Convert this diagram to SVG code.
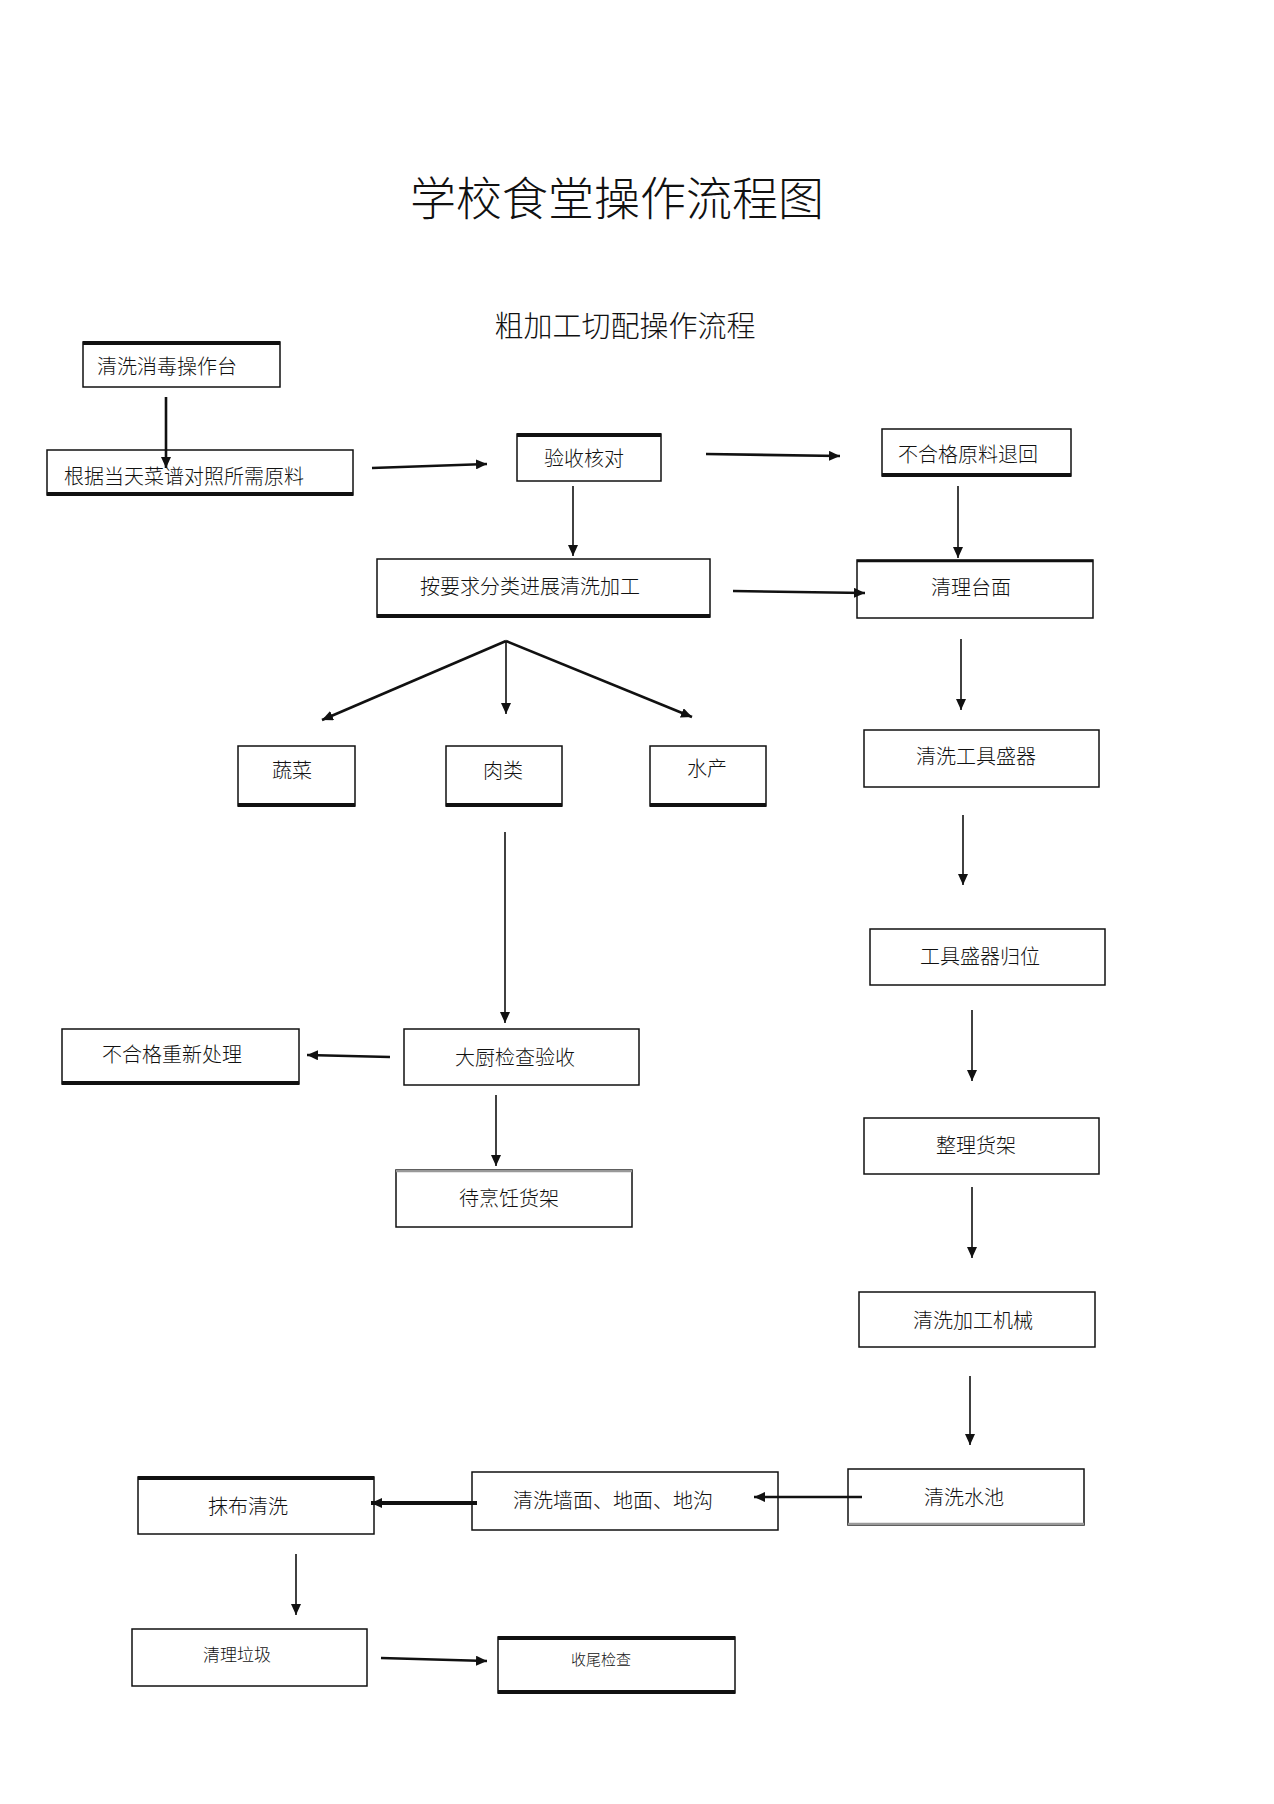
<svg xmlns="http://www.w3.org/2000/svg" width="1274" height="1804" viewBox="0 0 1274 1804">
<style>
text{font-family:"Noto Sans CJK SC","Noto Sans",sans-serif;fill:#111;text-anchor:middle;dominant-baseline:central;font-weight:300}
.t{font-size:20px}
.b{fill:#fff;stroke:#111;stroke-width:1.5}
.k{stroke:#111;stroke-width:4}
.g{stroke:#999;stroke-width:2.5}
.c{stroke:#111;fill:none;stroke-width:1.6}
.w{stroke-width:2.6}
</style>
<defs>
<marker id="a" markerUnits="userSpaceOnUse" markerWidth="12" markerHeight="10" refX="11" refY="5" orient="auto">
<path d="M0,0 L11,5 L0,10 Z" fill="#111"/>
</marker>
</defs>
<rect width="1274" height="1804" fill="#fff"/>
<text x="617" y="195" style="font-size:46px">学校食堂操作流程图</text>
<text x="625" y="324" style="font-size:29px">粗加工切配操作流程</text>

<g id="n1"><rect class="b" x="83" y="342" width="197" height="45"/><line class="k" x1="83" y1="343" x2="280" y2="343"/><text class="t" x="167" y="365">清洗消毒操作台</text></g>
<g id="n2"><rect class="b" x="47" y="450" width="306" height="45"/><line class="k" x1="47" y1="494" x2="353" y2="494"/><text class="t" x="184" y="475">根据当天菜谱对照所需原料</text></g>
<g id="n3"><rect class="b" x="517" y="434" width="144" height="47"/><line class="k" x1="517" y1="435" x2="661" y2="435"/><text class="t" x="584" y="457">验收核对</text></g>
<g id="n4"><rect class="b" x="882" y="429" width="189" height="47"/><line class="k" x1="882" y1="475" x2="1071" y2="475"/><text class="t" x="968" y="453">不合格原料退回</text></g>
<g id="n5"><rect class="b" x="377" y="559" width="333" height="58"/><line class="k" x1="377" y1="616" x2="710" y2="616"/><text class="t" x="530" y="585">按要求分类进展清洗加工</text></g>
<g id="n6"><rect class="b" x="857" y="560" width="236" height="58"/><line class="k" x1="857" y1="561" x2="1093" y2="561" style="stroke-width:2.5"/><text class="t" x="971" y="586">清理台面</text></g>
<g id="n7"><rect class="b" x="238" y="746" width="117" height="60"/><line class="k" x1="238" y1="805" x2="355" y2="805"/><text class="t" x="292" y="769">蔬菜</text></g>
<g id="n8"><rect class="b" x="446" y="746" width="116" height="60"/><line class="k" x1="446" y1="805" x2="562" y2="805"/><text class="t" x="503" y="769">肉类</text></g>
<g id="n9"><rect class="b" x="650" y="746" width="116" height="60"/><line class="k" x1="650" y1="805" x2="766" y2="805"/><text class="t" x="707" y="767">水产</text></g>
<g id="n10"><rect class="b" x="864" y="730" width="235" height="57"/><text class="t" x="976" y="755">清洗工具盛器</text></g>
<g id="n11"><rect class="b" x="870" y="929" width="235" height="56"/><text class="t" x="980" y="955">工具盛器归位</text></g>
<g id="n12"><rect class="b" x="404" y="1029" width="235" height="56"/><text class="t" x="515" y="1056">大厨检查验收</text></g>
<g id="n13"><rect class="b" x="62" y="1029" width="237" height="55"/><line class="k" x1="62" y1="1083" x2="299" y2="1083"/><text class="t" x="172" y="1053">不合格重新处理</text></g>
<g id="n14"><rect class="b" x="396" y="1170" width="236" height="57"/><line class="g" x1="396" y1="1171" x2="632" y2="1171"/><text class="t" x="509" y="1197">待烹饪货架</text></g>
<g id="n15"><rect class="b" x="864" y="1118" width="235" height="56"/><text class="t" x="976" y="1144">整理货架</text></g>
<g id="n16"><rect class="b" x="859" y="1292" width="236" height="55"/><text class="t" x="973" y="1319">清洗加工机械</text></g>
<g id="n17"><rect class="b" x="848" y="1469" width="236" height="56"/><line class="g" x1="848" y1="1524" x2="1084" y2="1524"/><text class="t" x="964" y="1496">清洗水池</text></g>
<g id="n18"><rect class="b" x="472" y="1472" width="306" height="58"/><text class="t" x="613" y="1499">清洗墙面、地面、地沟</text></g>
<g id="n19"><rect class="b" x="138" y="1477" width="236" height="57"/><line class="k" x1="138" y1="1478" x2="374" y2="1478"/><text class="t" x="248" y="1505">抹布清洗</text></g>
<g id="n20"><rect class="b" x="132" y="1629" width="235" height="57"/><text x="237" y="1653" style="font-size:17px">清理垃圾</text></g>
<g id="n21"><rect class="b" x="498" y="1637" width="237" height="56"/><line class="k" x1="498" y1="1638" x2="735" y2="1638"/><line class="k" x1="498" y1="1692" x2="735" y2="1692"/><text x="601" y="1658" style="font-size:15px">收尾检查</text></g>

<g id="connectors">
<line class="c w" x1="166" y1="397" x2="166" y2="468" marker-end="url(#a)"/>
<line class="c w" x1="372" y1="468" x2="487" y2="464" marker-end="url(#a)"/>
<line class="c w" x1="706" y1="454" x2="840" y2="456" marker-end="url(#a)"/>
<line class="c" x1="573" y1="486" x2="573" y2="556" marker-end="url(#a)"/>
<line class="c" x1="958" y1="486" x2="958" y2="558" marker-end="url(#a)"/>
<line class="c w" x1="733" y1="591" x2="865" y2="593" marker-end="url(#a)"/>
<line class="c w" x1="506" y1="641" x2="322" y2="720" marker-end="url(#a)"/>
<line class="c" x1="506" y1="641" x2="506" y2="714" marker-end="url(#a)"/>
<line class="c w" x1="506" y1="641" x2="692" y2="717" marker-end="url(#a)"/>
<line class="c" x1="961" y1="639" x2="961" y2="710" marker-end="url(#a)"/>
<line class="c" x1="963" y1="815" x2="963" y2="885" marker-end="url(#a)"/>
<line class="c" x1="505" y1="832" x2="505" y2="1023" marker-end="url(#a)"/>
<line class="c w" x1="390" y1="1057" x2="307" y2="1055" marker-end="url(#a)"/>
<line class="c" x1="496" y1="1095" x2="496" y2="1166" marker-end="url(#a)"/>
<line class="c" x1="972" y1="1010" x2="972" y2="1081" marker-end="url(#a)"/>
<line class="c" x1="972" y1="1187" x2="972" y2="1258" marker-end="url(#a)"/>
<line class="c" x1="970" y1="1376" x2="970" y2="1445" marker-end="url(#a)"/>
<line class="c w" x1="862" y1="1497" x2="754" y2="1497" marker-end="url(#a)"/>
<line class="c" x1="477" y1="1503" x2="371" y2="1503" style="stroke-width:4" marker-end="url(#a)"/>
<line class="c" x1="296" y1="1554" x2="296" y2="1615" marker-end="url(#a)"/>
<line class="c w" x1="381" y1="1658" x2="487" y2="1661" marker-end="url(#a)"/>
</g>
</svg>
